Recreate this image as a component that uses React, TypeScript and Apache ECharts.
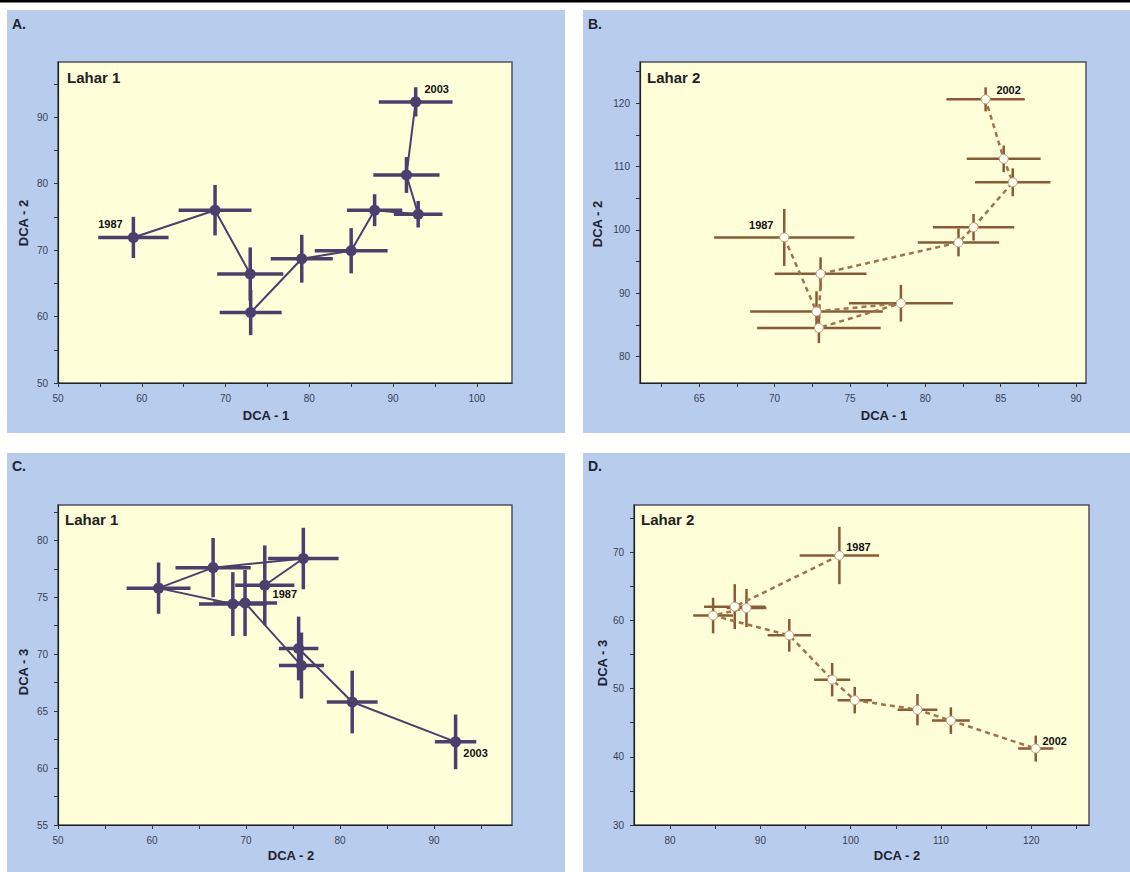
import React, { useEffect, useRef } from "react";
import * as echarts from "echarts";

// ---------- Data (DCA scores with error ranges) ----------
// Panel A: Lahar 1, DCA-1 (x) vs DCA-2 (y)
const A_x = [59.0, 68.75, 72.95, 73.0, 79.1, 85.0, 87.8, 93.0, 91.6, 92.7];
const A_y = [71.9, 76.0, 66.4, 60.6, 68.7, 69.9, 76.0, 75.4, 81.3, 92.3];
const A_xerr = [4.2, 4.35, 3.95, 3.7, 3.7, 4.35, 3.3, 2.9, 3.95, 4.4];
const A_yerr = [3.1, 3.8, 4.0, 3.4, 3.6, 3.4, 2.4, 2.0, 2.7, 2.2];

// Panel B: Lahar 2, DCA-1 (x) vs DCA-2 (y)
const B_x = [70.64, 72.78, 78.38, 72.94, 73.05, 82.2, 83.2, 85.8, 85.2, 84.0];
const B_y = [98.8, 87.1, 88.4, 84.5, 93.05, 98.0, 100.4, 107.5, 111.2, 120.6];
const B_xerr = [4.65, 4.4, 3.45, 4.1, 3.05, 2.7, 2.7, 2.5, 2.45, 2.6];
const B_yerr = [4.5, 3.2, 2.9, 2.4, 2.6, 2.2, 2.1, 2.2, 2.1, 1.9];

// Panel C: Lahar 1, DCA-2 (x) vs DCA-3 (y)
const C_x = [72.0, 76.1, 66.5, 60.7, 68.6, 69.9, 75.9, 75.6, 81.3, 92.3];
const C_y = [76.05, 78.4, 77.6, 75.8, 74.4, 74.5, 69.0, 70.5, 65.8, 62.3];
const C_xerr = [3.15, 3.75, 4.0, 3.4, 3.6, 3.4, 2.4, 2.1, 2.7, 2.2];
const C_yerr = [3.5, 2.7, 2.6, 2.25, 2.8, 2.9, 2.9, 2.8, 2.75, 2.4];

// Panel D: Lahar 2, DCA-2 (x) vs DCA-3 (y)
const D_x = [98.75, 87.16, 88.46, 84.76, 93.2, 97.95, 100.45, 107.4, 111.1, 120.5];
const D_y = [69.5, 62.0, 61.8, 60.7, 57.8, 51.3, 48.3, 46.9, 45.3, 41.2];
const D_xerr = [4.4, 3.4, 2.2, 2.2, 2.4, 2.0, 1.9, 2.2, 2.1, 1.95];
const D_yerr = [4.2, 3.3, 2.8, 2.6, 2.4, 2.45, 1.95, 2.3, 1.95, 1.9];

// Year labels (first, last point)
const yearsLahar1 = ["1987", "2003"];
const yearsLahar2 = ["1987", "2002"];

// Tick values and tick labels
const A_xLabels = [50, 60, 70, 80, 90, 100];
const A_xTicks = [50, 55, 60, 65, 70, 75, 80, 85, 90, 95, 100];
const A_yLabels = [50, 60, 70, 80, 90];
const A_yTicks = [50, 55, 60, 65, 70, 75, 80, 85, 90, 95];

const B_xLabels = [65, 70, 75, 80, 85, 90];
const B_xTicks = [62.5, 65, 67.5, 70, 72.5, 75, 77.5, 80, 82.5, 85, 87.5, 90];
const B_yLabels = [80, 90, 100, 110, 120];
const B_yTicks = [80, 85, 90, 95, 100, 105, 110, 115, 120, 125];

const C_xLabels = [50, 60, 70, 80, 90];
const C_xTicks = [50, 55, 60, 65, 70, 75, 80, 85, 90, 95];
const C_yLabels = [55, 60, 65, 70, 75, 80];
const C_yTicks = [55, 57.5, 60, 62.5, 65, 67.5, 70, 72.5, 75, 77.5, 80, 82.5];

const D_xLabels = [80, 90, 100, 110, 120];
const D_xTicks = [80, 85, 90, 95, 100, 105, 110, 115, 120, 125];
const D_yLabels = [30, 40, 50, 60, 70];
const D_yTicks = [30, 35, 40, 45, 50, 55, 60, 65, 70, 75];

// ---------- Styling ----------
const FONT = "'Liberation Sans', Arial, sans-serif";
const BLUE = "#b8ccee";
const CREAM = "#fefed9";
const L1 = "#4a3f6e";
const L2 = "#8a5a36";
const L2LINE = "#a2724a";

const panels = [
  {
    grid: { left: 58, top: 62, width: 454, height: 321 },
    xr: [50, 104.2], yr: [50, 98.3],
    x: A_x, y: A_y, xe: A_xerr, ye: A_yerr,
    xl: A_xLabels, xt: A_xTicks, yl: A_yLabels, yt: A_yTicks,
    years: yearsLahar1, lahar: 1,
    yearOff: [[-23, -13], [21, -13]],
  },
  {
    grid: { left: 640, top: 62, width: 446, height: 321 },
    xr: [61.07, 90.66], yr: [75.8, 126.5],
    x: B_x, y: B_y, xe: B_xerr, ye: B_yerr,
    xl: B_xLabels, xt: B_xTicks, yl: B_yLabels, yt: B_yTicks,
    years: yearsLahar2, lahar: 2,
    yearOff: [[-23, -12], [23, -9]],
  },
  {
    grid: { left: 58, top: 505, width: 454, height: 320 },
    xr: [50, 98.3], yr: [55, 83.1],
    x: C_x, y: C_y, xe: C_xerr, ye: C_yerr,
    xl: C_xLabels, xt: C_xTicks, yl: C_yLabels, yt: C_yTicks,
    years: yearsLahar1, lahar: 1,
    yearOff: [[20, 9], [20, 11]],
  },
  {
    grid: { left: 634, top: 505, width: 455, height: 320 },
    xr: [76, 126.4], yr: [30, 76.9],
    x: D_x, y: D_y, xe: D_xerr, ye: D_yerr,
    xl: D_xLabels, xt: D_xTicks, yl: D_yLabels, yt: D_yTicks,
    years: yearsLahar2, lahar: 2,
    yearOff: [[19, -8], [19, -8]],
  },
];

function buildOption() {
  const grid: any[] = [];
  const xAxis: any[] = [];
  const yAxis: any[] = [];
  const series: any[] = [];

  panels.forEach((p, i) => {
    grid.push({
      ...p.grid,
      show: true,
      backgroundColor: CREAM,
      borderColor: "#4f5262",
      borderWidth: 1.5,
    });
    const axisCommon = (labels: number[], ticks: number[], margin: number) => ({
      type: "value",
      gridIndex: i,
      axisLine: { show: true, onZero: false, lineStyle: { color: "#222", width: 1.2 } },
      axisTick: { show: true, customValues: ticks, length: 4, lineStyle: { color: "#333", width: 1 } },
      axisLabel: {
        customValues: labels,
        fontSize: 10,
        color: "#3a3f55",
        fontFamily: FONT,
        margin,
      },
      splitLine: { show: false },
    });
    xAxis.push({ ...axisCommon(p.xl, p.xt, 10), min: p.xr[0], max: p.xr[1] });
    yAxis.push({ ...axisCommon(p.yl, p.yt, 10), min: p.yr[0], max: p.yr[1] });

    const color = p.lahar === 1 ? L1 : L2;
    const barW = p.lahar === 1 ? 3.5 : 2.5;

    series.push({
      type: "custom",
      xAxisIndex: i,
      yAxisIndex: i,
      z: 2,
      silent: true,
      data: p.x.map((x, k) => [x, p.y[k], p.xe[k], p.ye[k]]),
      encode: { x: 0, y: 1 },
      renderItem: (params: any, api: any) => {
        const x = api.value(0);
        const y = api.value(1);
        const ex = api.value(2);
        const ey = api.value(3);
        const l = api.coord([x - ex, y]);
        const r = api.coord([x + ex, y]);
        const t = api.coord([x, y + ey]);
        const b = api.coord([x, y - ey]);
        return {
          type: "group",
          children: [
            { type: "line", shape: { x1: l[0], y1: l[1], x2: r[0], y2: r[1] }, style: { stroke: color, lineWidth: barW } },
            { type: "line", shape: { x1: t[0], y1: t[1], x2: b[0], y2: b[1] }, style: { stroke: color, lineWidth: barW } },
          ],
        };
      },
    });

    const last = p.x.length - 1;
    series.push({
      type: "line",
      xAxisIndex: i,
      yAxisIndex: i,
      z: 3,
      silent: true,
      symbol: "circle",
      symbolSize: p.lahar === 1 ? 11 : 9,
      showAllSymbol: true,
      lineStyle:
        p.lahar === 1
          ? { color: L1, width: 2 }
          : { color: L2LINE, width: 2.5, type: [5, 4] },
      itemStyle:
        p.lahar === 1
          ? { color: L1 }
          : { color: "#fffff2", borderColor: "#c29c7a", borderWidth: 1 },
      data: p.x.map((x, k) => {
        const item: any = { value: [x, p.y[k]] };
        if (k === 0 || k === last) {
          const idx = k === 0 ? 0 : 1;
          item.label = {
            show: true,
            formatter: p.years[idx],
            position: "inside",
            offset: p.yearOff[idx],
            fontSize: 11,
            fontWeight: "bold",
            color: "#111",
            fontFamily: FONT,
          };
        }
        return item;
      }),
    });
  });

  const txt = (text: string, x: number, y: number, size: number, extra: any = {}) => ({
    type: "text",
    x,
    y,
    z: 10,
    style: {
      text,
      fill: "#1f2230",
      font: `bold ${size}px ${FONT}`,
      ...extra,
    },
  });

  const graphic: any[] = [
    { type: "rect", z: -10, shape: { x: 0, y: 0, width: 1130, height: 2.5 }, style: { fill: "#000" } },
    { type: "rect", z: -10, shape: { x: 7, y: 10, width: 558, height: 423 }, style: { fill: BLUE } },
    { type: "rect", z: -10, shape: { x: 583, y: 10, width: 547, height: 423 }, style: { fill: BLUE } },
    { type: "rect", z: -10, shape: { x: 7, y: 453, width: 558, height: 419 }, style: { fill: BLUE } },
    { type: "rect", z: -10, shape: { x: 583, y: 453, width: 547, height: 419 }, style: { fill: BLUE } },
    txt("A.", 12, 17, 14),
    txt("B.", 588, 17, 14),
    txt("C.", 12, 459, 14),
    txt("D.", 588, 459, 14),
    txt("Lahar 1", 67, 70, 15, { fill: "#222" }),
    txt("Lahar 2", 647, 70, 15, { fill: "#222" }),
    txt("Lahar 1", 65, 512, 15, { fill: "#222" }),
    txt("Lahar 2", 641, 512, 15, { fill: "#222" }),
    txt("DCA - 1", 266, 415, 13, { align: "center", verticalAlign: "middle" }),
    txt("DCA - 1", 884, 415, 13, { align: "center", verticalAlign: "middle" }),
    txt("DCA - 2", 291, 855, 13, { align: "center", verticalAlign: "middle" }),
    txt("DCA - 2", 897, 855, 13, { align: "center", verticalAlign: "middle" }),
    { ...txt("DCA - 2", 23, 223, 13, { align: "center", verticalAlign: "middle" }), rotation: Math.PI / 2 },
    { ...txt("DCA - 2", 597, 224, 13, { align: "center", verticalAlign: "middle" }), rotation: Math.PI / 2 },
    { ...txt("DCA - 3", 23, 672, 13, { align: "center", verticalAlign: "middle" }), rotation: Math.PI / 2 },
    { ...txt("DCA - 3", 602, 663, 13, { align: "center", verticalAlign: "middle" }), rotation: Math.PI / 2 },
  ];

  return {
    animation: false,
    backgroundColor: "#ffffff",
    grid,
    xAxis,
    yAxis,
    series,
    graphic,
  };
}

export default function App() {
  const ref = useRef<HTMLDivElement>(null);
  useEffect(() => {
    if (!ref.current) return;
    const chart = echarts.init(ref.current, undefined, { renderer: "svg" });
    chart.setOption(buildOption() as any);
    return () => chart.dispose();
  }, []);
  return (
    <div
      ref={ref}
      style={{ position: "absolute", left: 0, top: 0, width: 1130, height: 872 }}
    />
  );
}
